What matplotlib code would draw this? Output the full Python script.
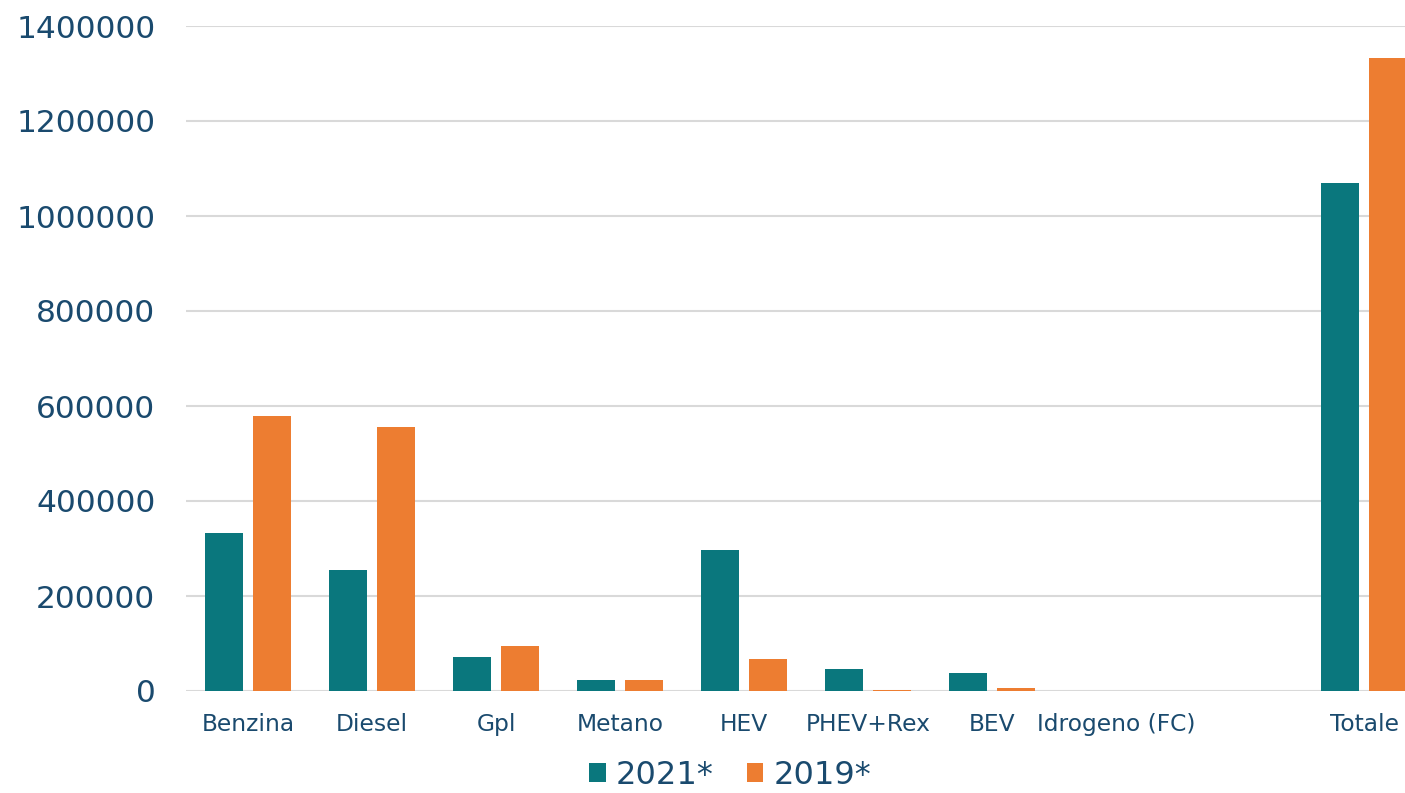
import matplotlib
matplotlib.use("Agg")
import matplotlib.pyplot as plt
import numpy as np

categories = ["Benzina", "Diesel", "Gpl", "Metano", "HEV", "PHEV+Rex", "BEV", "Idrogeno (FC)", "", "Totale"]
values_2021 = [332000, 255000, 72000, 23000, 297000, 46000, 38000, 0, 0, 1070000]
values_2019 = [579000, 556000, 95000, 23000, 68000, 3000, 6000, 0, 0, 1333000]
series_labels = ["2021*", "2019*"]
yticks = [0, 200000, 400000, 600000, 800000, 1000000, 1200000, 1400000]

TEAL = "#0A777D"
ORANGE = "#ED7D31"
TXT = "#1A4A6E"

W, H = 1405, 793
fig = plt.figure(figsize=(W / 100, H / 100), dpi=100)
ax = fig.add_axes([186 / W, (H - 691) / H, 1240 / W, (691 - 26) / H])

x = np.arange(len(categories))
bw = 0.306
off = 0.194
ax.bar(x - off, values_2021, bw, color=TEAL, label=series_labels[0], zorder=3)
ax.bar(x + off, values_2019, bw, color=ORANGE, label=series_labels[1], zorder=3)

ax.set_xlim(-0.5, len(categories) - 0.5)
ax.set_ylim(0, 1400000)
ax.set_yticks(yticks)
ax.set_yticklabels([str(v) for v in yticks], fontsize=22.5, color=TXT)
ax.set_xticks(x)
ax.set_xticklabels(categories, fontsize=16.8, color=TXT)
ax.tick_params(axis="y", length=0, pad=22)
ax.tick_params(axis="x", length=0, pad=16)
ax.yaxis.grid(True, color="#D9D9D9", linewidth=1.5, zorder=0)
ax.set_axisbelow(True)
for s in ax.spines.values():
    s.set_visible(False)

handles, labels = ax.get_legend_handles_labels()
fig.legend(handles, labels, loc="center", bbox_to_anchor=(730 / W, (H - 775) / H),
           ncol=2, frameon=False, fontsize=23, labelcolor=TXT,
           handlelength=0.53, handleheight=0.53, handletextpad=0.31, columnspacing=1.03,
           borderpad=0.1)

fig.savefig("out.png", dpi=100)
